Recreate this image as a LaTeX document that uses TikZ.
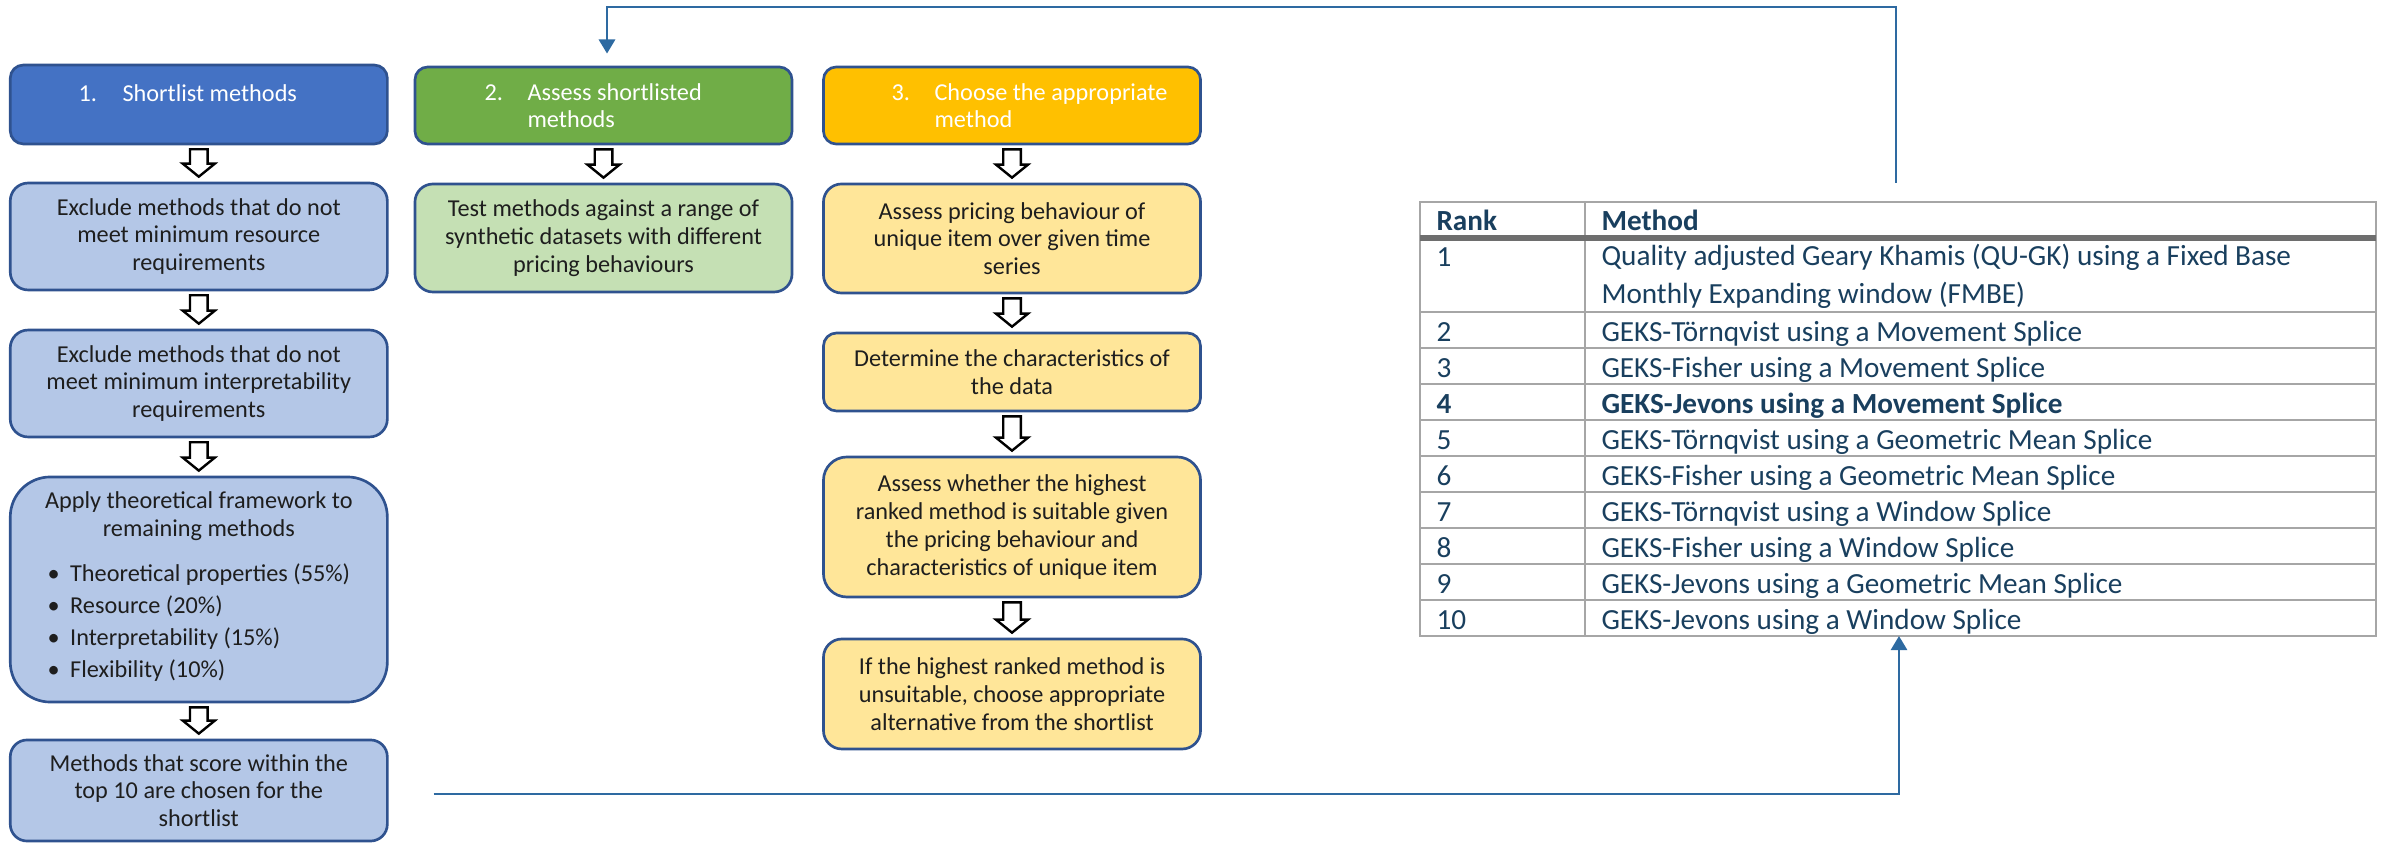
\documentclass[tikz,border=0pt]{standalone}
\usepackage{fontspec}
\usetikzlibrary{calc,arrows.meta}

\newfontfamily\boxfont{Carlito}
\newcommand{\boxsize}{\boxfont\fontsize{9.1pt}{10.4pt}\selectfont}
\newcommand{\tabsize}{\boxfont\fontsize{10.95pt}{14.25pt}\selectfont}

\definecolor{boxline}{HTML}{2F528F}
\definecolor{blueHead}{HTML}{4472C4}
\definecolor{blueBody}{HTML}{B4C7E7}
\definecolor{greenHead}{HTML}{70AD47}
\definecolor{greenBody}{HTML}{C5E0B4}
\definecolor{yellowHead}{HTML}{FFC000}
\definecolor{yellowBody}{HTML}{FFE699}
\definecolor{bodyink}{HTML}{1E1E1E}
\definecolor{linkblue}{HTML}{2E6AA1}
\definecolor{tabink}{HTML}{193F5E}
\definecolor{tabgray}{HTML}{A6A6A6}
\definecolor{tabdark}{HTML}{6E6E6E}

\tikzset{
  box/.style={draw=boxline, line width=1pt, align=center, inner sep=0pt, font=\boxsize, text=bodyink, minimum width=141.4pt},
  hollow/.style={draw=black, fill=white, line width=0.9pt, line join=miter},
  link/.style={draw=linkblue, line width=1.1pt, -{Triangle[length=5.3pt,width=6pt]}},
  tabrule/.style={draw=tabgray, line width=1pt},
  tabhead/.style={draw=tabdark, line width=1.9pt},
  hdtext/.style={inner sep=0pt, font=\boxsize, text=white, align=left},
  tabtext/.style={inner sep=0pt, font=\tabsize, text=tabink, align=left},
}

% white block arrow from one box down to the next
\newcommand{\hollowdown}[2]{%
  \draw[hollow] ($(#1.south)+(-4.4,2)$) -- ($(#1.south)+(4.4,2)$)
    -- ($(#1.south|-#2.north)+(4.4,-9)$) -- ($(#1.south|-#2.north)+(8,-9)$)
    -- ($(#1.south|-#2.north)+(0,-2.5)$) -- ($(#1.south|-#2.north)+(-8,-9)$)
    -- ($(#1.south|-#2.north)+(-4.4,-9)$) -- cycle;}

\begin{document}
\begin{tikzpicture}[x=0.75pt,y=0.75pt,yscale=-1,xscale=1]
\useasboundingbox (0,0) rectangle (1196,421.5);

%Shape: Rounded Rect -- column 1
\node[box, fill=blueHead, minimum height=29.6pt, rounded corners=4.9pt] (sl1) at (99.4,52.25) {};
\node[box, fill=blueBody, minimum height=40.1pt, rounded corners=6.7pt] (sl2) at (99.4,118.25) {Exclude methods that do not\\meet minimum resource\\requirements};
\node[box, fill=blueBody, minimum height=40.1pt, rounded corners=6.7pt] (sl3) at (99.4,191.75) {Exclude methods that do not\\meet minimum interpretability\\requirements};
\node[box, fill=blueBody, minimum height=84.4pt, rounded corners=15pt] (sl4) at (99.4,294.75) {Apply theoretical framework to\\remaining methods\\[6pt]
  \def\arraystretch{1.16}%
  \begin{tabular}{@{}p{8.5pt}@{}l@{}}
  \textbullet & Theoretical properties (55\%)\\
  \textbullet & Resource (20\%)\\
  \textbullet & Interpretability (15\%)\\
  \textbullet & Flexibility (10\%)
  \end{tabular}};
\node[box, fill=blueBody, minimum height=37.9pt, rounded corners=6.3pt] (sl5) at (99.4,395.25) {Methods that score within the\\top 10 are chosen for the\\shortlist};

%Shape: Rounded Rect -- column 2
\node[box, fill=greenHead, minimum height=28.9pt, rounded corners=4.8pt] (as1) at (301.75,52.75) {};
\node[box, fill=greenBody, minimum height=40.5pt, rounded corners=6.75pt] (as2) at (301.75,119) {Test methods against a range of\\synthetic datasets with different\\pricing behaviours};

%Shape: Rounded Rect -- column 3
\node[box, fill=yellowHead, minimum height=28.9pt, rounded corners=4.8pt] (ch1) at (506,52.75) {};
\node[box, fill=yellowBody, minimum height=40.9pt, rounded corners=6.8pt] (ch2) at (506,119.25) {Assess pricing behaviour of\\unique item over given time\\series};
\node[box, fill=yellowBody, minimum height=29.25pt, rounded corners=4.9pt] (ch3) at (506,186) {Determine the characteristics of\\the data};
\node[box, fill=yellowBody, minimum height=52.5pt, rounded corners=8.75pt] (ch4) at (506,263.5) {Assess whether the highest\\ranked method is suitable given\\the pricing behaviour and\\characteristics of unique item};
\node[box, fill=yellowBody, minimum height=41.25pt, rounded corners=6.9pt] (ch5) at (506,347) {If the highest ranked method is\\unsuitable, choose appropriate\\alternative from the shortlist};

% Text Node
\draw (39,51) node [anchor=base west][hdtext] (sl1n) {1.};
% Text Node
\draw (61,51) node [anchor=base west][hdtext] (sl1t) {Shortlist methods};
% Text Node
\draw (242,50.5) node [anchor=base west][hdtext] (as1n) {2.};
% Text Node
\draw (263.5,64) node [anchor=base west][hdtext] (as1t) {Assess shortlisted\\methods};
% Text Node
\draw (445.5,50.5) node [anchor=base west][hdtext] (ch1n) {3.};
% Text Node
\draw (467,64) node [anchor=base west][hdtext] (ch1t) {Choose the appropriate\\method};

%Block Arrows
\hollowdown{sl1}{sl2}
\hollowdown{sl2}{sl3}
\hollowdown{sl3}{sl4}
\hollowdown{sl4}{sl5}
\hollowdown{as1}{as2}
\hollowdown{ch1}{ch2}
\hollowdown{ch2}{ch3}
\hollowdown{ch3}{ch4}
\hollowdown{ch4}{ch5}

%Table
\coordinate (tblNW) at (710,101);
\coordinate (tblNE) at (1188,101);
\coordinate (tblSE) at (1188,318);
\draw[tabrule] (tblNW) rectangle (tblSE);
\draw[tabrule] (792.5,101) -- (792.5,318);
\draw[tabrule] (710,156) -- (1188,156);
\draw[tabrule] (710,174) -- (1188,174);
\draw[tabrule] (710,192) -- (1188,192);
\draw[tabrule] (710,210) -- (1188,210);
\draw[tabrule] (710,228) -- (1188,228);
\draw[tabrule] (710,246) -- (1188,246);
\draw[tabrule] (710,264) -- (1188,264);
\draw[tabrule] (710,282) -- (1188,282);
\draw[tabrule] (710,300) -- (1188,300);
\draw[tabhead] (710,119) -- (1188,119);

% Text Node
\draw (718,115.5) node [anchor=base west][tabtext] (rk0) {\bfseries Rank};
\draw (800.5,115.5) node [anchor=base west][tabtext] (mt0) {\bfseries Method};
\draw (718,133.5) node [anchor=base west][tabtext] (rk1) {1};
\draw (800.5,152) node [anchor=base west][tabtext] (mt1) {Quality adjusted Geary Khamis (QU-GK) using a Fixed Base\\Monthly Expanding window (FMBE)};
\draw (718,171) node [anchor=base west][tabtext] (rk2) {2};
\draw (800.5,171) node [anchor=base west][tabtext] (mt2) {GEKS-Törnqvist using a Movement Splice};
\draw (718,189) node [anchor=base west][tabtext] (rk3) {3};
\draw (800.5,189) node [anchor=base west][tabtext] (mt3) {GEKS-Fisher using a Movement Splice};
\draw (718,207) node [anchor=base west][tabtext] (rk4) {\bfseries 4};
\draw (800.5,207) node [anchor=base west][tabtext] (mt4) {\bfseries GEKS-Jevons using a Movement Splice};
\draw (718,225) node [anchor=base west][tabtext] (rk5) {5};
\draw (800.5,225) node [anchor=base west][tabtext] (mt5) {GEKS-Törnqvist using a Geometric Mean Splice};
\draw (718,243) node [anchor=base west][tabtext] (rk6) {6};
\draw (800.5,243) node [anchor=base west][tabtext] (mt6) {GEKS-Fisher using a Geometric Mean Splice};
\draw (718,261) node [anchor=base west][tabtext] (rk7) {7};
\draw (800.5,261) node [anchor=base west][tabtext] (mt7) {GEKS-Törnqvist using a Window Splice};
\draw (718,279) node [anchor=base west][tabtext] (rk8) {8};
\draw (800.5,279) node [anchor=base west][tabtext] (mt8) {GEKS-Fisher using a Window Splice};
\draw (718,297) node [anchor=base west][tabtext] (rk9) {9};
\draw (800.5,297) node [anchor=base west][tabtext] (mt9) {GEKS-Jevons using a Geometric Mean Splice};
\draw (718,315) node [anchor=base west][tabtext] (rk10) {10};
\draw (800.5,315) node [anchor=base west][tabtext] (mt10) {GEKS-Jevons using a Window Splice};

%Connectors
\draw[link] ($(sl5.east)+(22.5,1.75)$) -| ($(tblSE)+(-238.5,0)$);
\draw[link] ($(tblNE)+(-240,-9.5)$) -- ++(0,-88) -| ($(as1.north)+(1.75,-6)$);

\end{tikzpicture}
\end{document}
